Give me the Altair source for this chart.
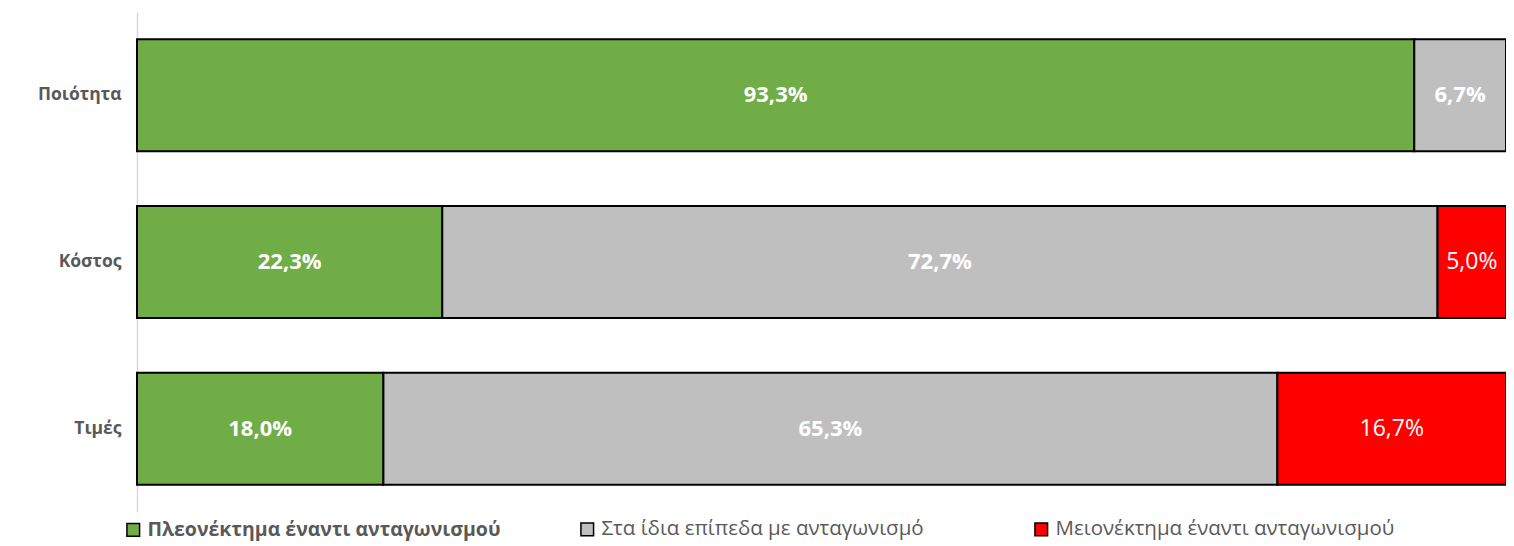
import altair as alt
import pandas as pd

categories = ["Ποιότητα", "Κόστος", "Τιμές"]
series = [
    "Πλεονέκτημα έναντι ανταγωνισμού",
    "Στα ίδια επίπεδα με ανταγωνισμό",
    "Μειονέκτημα έναντι ανταγωνισμού",
]
colors = ["#70AD47", "#BFBFBF", "#FF0000"]
advantage = [93.3, 22.3, 18.0]
same = [6.7, 72.7, 65.3]
disadvantage = [0.0, 5.0, 16.7]

rows = []
for i, c in enumerate(categories):
    for j, vals in enumerate([advantage, same, disadvantage]):
        rows.append({"category": c, "series": series[j], "order": j, "value": vals[i]})
df = pd.DataFrame(rows)

FONT = "Open Sans"
base = alt.Chart(df).transform_filter("datum.value > 0")

y = alt.Y(
    "category:N",
    sort=categories,
    title=None,
    scale=alt.Scale(paddingInner=0.328, paddingOuter=0.164),
    axis=alt.Axis(
        domainColor="#D9D9D9",
        domainWidth=1.5,
        ticks=False,
        labelPadding=16,
        labelFont=FONT,
        labelFontSize=17.5,
        labelFontWeight="bold",
        labelColor="#595959",
        grid=False,
    ),
)
xscale = alt.Scale(domain=[0, 100])

bars = base.mark_bar(stroke="black", strokeWidth=2).encode(
    x=alt.X("value:Q", stack="zero", scale=xscale, axis=None),
    y=y,
    color=alt.Color(
        "series:N",
        sort=series,
        scale=alt.Scale(domain=series, range=colors),
        legend=alt.Legend(
            title=None,
            orient="none",
            legendX=-14,
            legendY=507,
            direction="horizontal",
            columns=3,
            gridAlign="all",
            columnPadding=76,
            symbolType="square",
            symbolSize=160,
            symbolStrokeColor="black",
            symbolStrokeWidth=1.5,
            labelFont=FONT,
            labelColor="#595959",
            labelLimit=0,
            labelOffset=4,
            labelFontSize=alt.ExprRef("datum.index == 0 ? 19.5 : 20.5"),
            labelFontWeight=alt.ExprRef("datum.index == 0 ? 'bold' : 'normal'"),
        ),
    ),
    order=alt.Order("order:Q"),
)

labels = base.transform_stack(
    stack="value",
    groupby=["category"],
    sort=[alt.SortField("order")],
    as_=["x0", "x1"],
).transform_calculate(
    mid="(datum.x0 + datum.x1) / 2",
    label="replace(format(datum.value, '.1f'), '.', ',') + '%'",
)

bold_labels = labels.transform_filter("datum.order < 2").mark_text(
    font=FONT, fontSize=22, fontWeight="bold", color="white"
).encode(x=alt.X("mid:Q", scale=xscale), y=y, text="label:N")

normal_labels = labels.transform_filter("datum.order == 2").mark_text(
    font=FONT, fontSize=23, color="white"
).encode(x=alt.X("mid:Q", scale=xscale), y=y, text="label:N")

chart = alt.layer(bars, bold_labels, normal_labels).properties(
    width=1369,
    height=500,
    autosize=alt.AutoSizeParams(type="none"),
    padding={"left": 129, "top": 4, "right": 0, "bottom": 32},
).configure_view(stroke=None)

chart.save("out.html", embed_options={"renderer": "svg", "actions": False})
